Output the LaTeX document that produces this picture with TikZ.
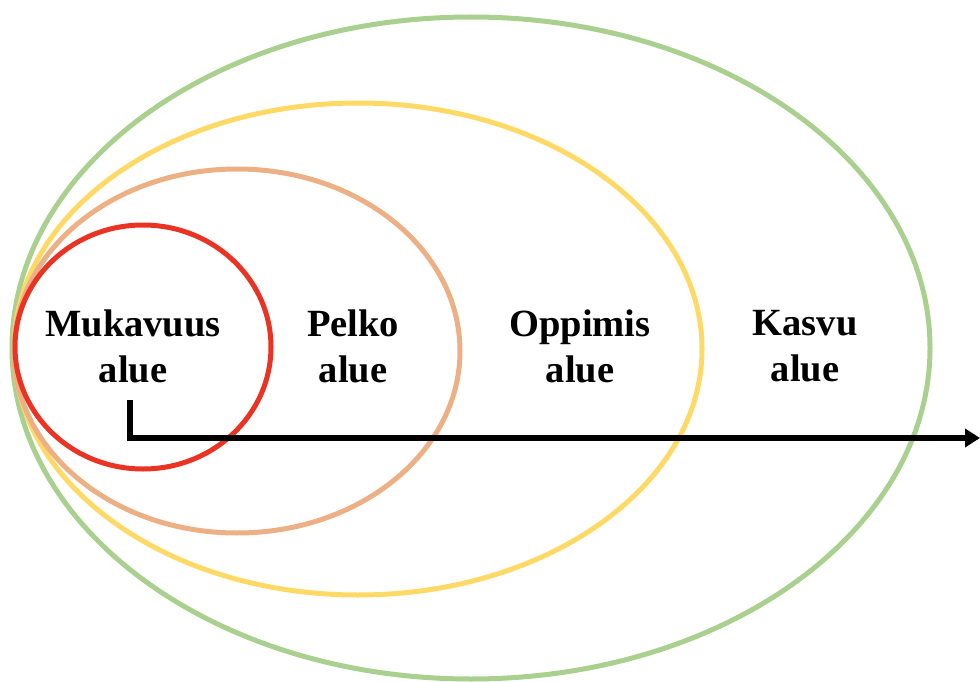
\documentclass[tikz,border=0pt]{standalone}
\usepackage{fontspec}
\setmainfont{Liberation Serif}
\usetikzlibrary{arrows.meta}
\definecolor{zgreen}{RGB}{169,208,142}
\definecolor{zyellow}{RGB}{255,217,102}
\definecolor{ztan}{RGB}{236,176,132}
\definecolor{zred}{RGB}{234,51,35}
\tikzset{
  zone/.style={line width=5pt},
  lbl/.style={font=\fontsize{38.5}{46}\selectfont\bfseries, align=center, inner sep=0pt},
  flow/.style={line width=5.8pt, -{Triangle[length=15pt,width=18pt]}}
}
\begin{document}
\begin{tikzpicture}[x=1pt,y=-1pt]
\useasboundingbox (0,0) rectangle (980,682);
\draw[zone, zgreen] (471,348) ellipse [x radius=459, y radius=331];
\draw[zone, zyellow] (358,349) ellipse [x radius=344, y radius=246];
\draw[zone, ztan] (237,351) ellipse [x radius=223, y radius=182];
\draw[zone, zred] (143,347) ellipse [x radius=128, y radius=122];
\node[lbl] (muk) at (133,346) {Mukavuus\\alue};
\node[lbl] (pel) at (353,346) {Pelko\\alue};
\node[lbl] (opp) at (580,346) {Oppimis\\alue};
\node[lbl] (kas) at (805,346) {Kasvu\\alue};
\coordinate (s) at (130,400);
\coordinate (c) at (130,438);
\coordinate (e) at (980,438);
\draw[flow] (s) -- (c) -- (e);
\end{tikzpicture}
\end{document}
